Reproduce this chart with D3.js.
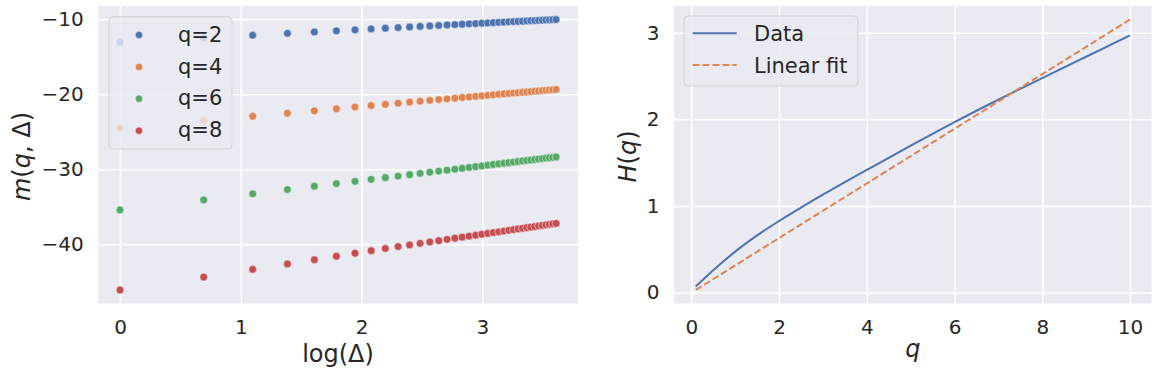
<!DOCTYPE html>
<html><head><meta charset="utf-8">
<script src="https://cdn.jsdelivr.net/npm/d3@7"></script>
<style>
html,body{margin:0;padding:0;background:#fff;}
svg{display:block;font-family:"DejaVu Sans",sans-serif;}
</style></head>
<body>
<svg id="chart" width="1158" height="369"></svg>
<script>
// ---------- data ----------
const deltas = d3.range(1, 38); // Δ = 1..37
const seriesNames = ["q=2", "q=4", "q=6", "q=8"];
const m_q2 = [-13.06,-12.48,-12.14,-11.88,-11.70,-11.55,-11.42,-11.30,-11.20,-11.11,-11.03,-10.96,-10.89,-10.83,-10.77,-10.72,-10.67,-10.62,-10.58,-10.54,-10.50,-10.46,-10.42,-10.39,-10.35,-10.32,-10.29,-10.26,-10.23,-10.20,-10.18,-10.15,-10.13,-10.10,-10.08,-10.06,-10.04];
const m_q4 = [-24.50,-23.52,-22.94,-22.54,-22.21,-21.95,-21.71,-21.51,-21.34,-21.19,-21.05,-20.93,-20.82,-20.71,-20.62,-20.53,-20.44,-20.36,-20.29,-20.22,-20.15,-20.08,-20.02,-19.96,-19.90,-19.85,-19.80,-19.74,-19.70,-19.65,-19.60,-19.56,-19.52,-19.48,-19.44,-19.40,-19.36];
const m_q6 = [-35.43,-34.09,-33.28,-32.71,-32.27,-31.91,-31.61,-31.35,-31.12,-30.91,-30.72,-30.55,-30.40,-30.25,-30.12,-29.99,-29.87,-29.76,-29.66,-29.56,-29.46,-29.37,-29.29,-29.20,-29.12,-29.05,-28.97,-28.90,-28.83,-28.77,-28.70,-28.64,-28.58,-28.52,-28.47,-28.42,-28.37];
const m_q8 = [-46.10,-44.38,-43.36,-42.63,-42.06,-41.60,-41.20,-40.86,-40.56,-40.31,-40.09,-39.88,-39.69,-39.52,-39.35,-39.20,-39.06,-38.92,-38.80,-38.67,-38.56,-38.45,-38.34,-38.24,-38.15,-38.05,-37.96,-37.88,-37.80,-37.72,-37.64,-37.56,-37.49,-37.42,-37.35,-37.28,-37.22];
const seriesValues = [m_q2, m_q4, m_q6, m_q8];
const leftXTicks = [0, 1, 2, 3];
const leftYTicks = [-40, -30, -20, -10];

const qValues = [0.1,0.5,1,1.5,2,2.5,3,3.5,4,4.5,5,5.5,6,6.5,7,7.5,8,8.5,9,9.5,10];
const hData   = [0.07,0.258,0.473,0.66,0.826,0.981,1.130,1.275,1.415,1.556,1.695,1.832,1.968,2.099,2.227,2.352,2.475,2.599,2.722,2.845,2.968];
const fitQ = [0.1, 10];
const fitH = [0.030, 3.152];
const rightXTicks = [0, 2, 4, 6, 8, 10];
const rightYTicks = [0, 1, 2, 3];
const legendRight = ["Data", "Linear fit"];

// ---------- style ----------
const palette = ["#4C72B0", "#DD8452", "#55A868", "#C44E52"];
const bg = "#EAEAF2", txt = "#262626";
const tickFont = 20, labelFont = 24, legendFont = 21;

const svg = d3.select("#chart");
const fmt = v => String(v).replace("-", "\u2212");
function pad(ext) { const s = ext[1] - ext[0]; return [ext[0] - 0.05 * s, ext[1] + 0.05 * s]; }

function drawAxes(g, x, y, xt, yt, box) {
  g.append("rect").attr("x", box.l).attr("y", box.t).attr("width", box.r - box.l).attr("height", box.b - box.t).attr("fill", bg);
  const gx = g.append("g").attr("transform", `translate(0,${box.b})`)
    .call(d3.axisBottom(x).tickValues(xt).tickSize(-(box.b - box.t)).tickPadding(16).tickFormat(fmt));
  const gy = g.append("g").attr("transform", `translate(${box.l},0)`)
    .call(d3.axisLeft(y).tickValues(yt).tickSize(-(box.r - box.l)).tickPadding(14.5).tickFormat(fmt));
  [gx, gy].forEach(a => {
    a.select(".domain").remove();
    a.selectAll("line").attr("stroke", "#fff").attr("stroke-width", 1.6);
    a.selectAll("text").attr("fill", txt).style("font-size", tickFont + "px").style("font-family", "DejaVu Sans");
  });
}

// ---------- left panel ----------
const L = {l: 98.2, r: 577.9, t: 6, b: 303.5};
const allLogX = deltas.map(d => Math.log(d));
const allM = seriesValues.flat();
const xL = d3.scaleLinear().domain(pad(d3.extent(allLogX))).range([L.l, L.r]);
const yL = d3.scaleLinear().domain(pad(d3.extent(allM))).range([L.b, L.t]);
const gL = svg.append("g");
drawAxes(gL, xL, yL, leftXTicks, leftYTicks, L);

seriesValues.forEach((vals, si) => {
  gL.append("g").selectAll("circle").data(vals).join("circle")
    .attr("cx", (v, i) => xL(Math.log(deltas[i])))
    .attr("cy", v => yL(v))
    .attr("r", 3.9)
    .attr("fill", palette[si])
    .attr("stroke", "#fff").attr("stroke-width", 0.5);
});

// left axis labels
gL.append("text").attr("x", (L.l + L.r) / 2).attr("y", 362).attr("text-anchor", "middle")
  .attr("fill", txt).style("font-size", labelFont + "px").text("log(\u0394)");
const ml = gL.append("text").attr("transform", `translate(30,156.5) rotate(-90)`).attr("text-anchor", "middle")
  .attr("fill", txt).style("font-size", labelFont + "px");
ml.append("tspan").style("font-style", "italic").text("m");
ml.append("tspan").text("(");
ml.append("tspan").style("font-style", "italic").text("q");
ml.append("tspan").text(", \u0394)");

// left legend
const lg = gL.append("g");
lg.append("rect").attr("x", 109).attr("y", 16.7).attr("width", 123).attr("height", 132.3).attr("rx", 4)
  .attr("fill", bg).attr("fill-opacity", 0.8).attr("stroke", "#cccccc").attr("stroke-opacity", 0.8).attr("stroke-width", 1);
seriesNames.forEach((name, i) => {
  const cy = 35 + i * 31.9;
  lg.append("circle").attr("cx", 139).attr("cy", cy).attr("r", 3.7).attr("fill", palette[i]).attr("stroke", "#fff").attr("stroke-width", 0.5);
  lg.append("text").attr("x", 178).attr("y", cy + 6.6).attr("fill", txt).style("font-size", legendFont + "px").text(name);
});

// ---------- right panel ----------
const R = {l: 674, r: 1151.7, t: 6, b: 303.5};
const xR = d3.scaleLinear().domain(pad(d3.extent(qValues.concat(fitQ)))).range([R.l, R.r]);
const yR = d3.scaleLinear().domain(pad(d3.extent(hData.concat(fitH)))).range([R.b, R.t]);
const gR = svg.append("g");
drawAxes(gR, xR, yR, rightXTicks, rightYTicks, R);

const lineData = d3.line().x((d, i) => xR(qValues[i])).y(d => yR(d)).curve(d3.curveMonotoneX);
gR.append("path").attr("d", lineData(hData)).attr("fill", "none").attr("stroke", palette[0]).attr("stroke-width", 2);
const lineFit = d3.line().x((d, i) => xR(fitQ[i])).y(d => yR(d));
gR.append("path").attr("d", lineFit(fitH)).attr("fill", "none").attr("stroke", palette[1]).attr("stroke-width", 2).attr("stroke-dasharray", "6.9,3");

gR.append("text").attr("x", (R.l + R.r) / 2).attr("y", 357).attr("text-anchor", "middle")
  .attr("fill", txt).style("font-size", labelFont + "px").style("font-style", "italic").text("q");
const hl = gR.append("text").attr("transform", `translate(636,156.5) rotate(-90)`).attr("text-anchor", "middle")
  .attr("fill", txt).style("font-size", labelFont + "px");
hl.append("tspan").style("font-style", "italic").text("H");
hl.append("tspan").text("(");
hl.append("tspan").style("font-style", "italic").text("q");
hl.append("tspan").text(")");

// right legend
const rg = gR.append("g");
rg.append("rect").attr("x", 684).attr("y", 16).attr("width", 174).attr("height", 70).attr("rx", 4)
  .attr("fill", bg).attr("fill-opacity", 0.8).attr("stroke", "#cccccc").attr("stroke-opacity", 0.8).attr("stroke-width", 1);
legendRight.forEach((name, i) => {
  const cy = 33.3 + i * 31.8;
  rg.append("line").attr("x1", 692.7).attr("x2", 736.7).attr("y1", cy).attr("y2", cy)
    .attr("stroke", palette[i]).attr("stroke-width", 2).attr("stroke-dasharray", i === 1 ? "6.9,3" : null);
  rg.append("text").attr("x", 754).attr("y", cy + 7.5).attr("fill", txt).style("font-size", legendFont + "px").text(name);
});
</script>
</body></html>
